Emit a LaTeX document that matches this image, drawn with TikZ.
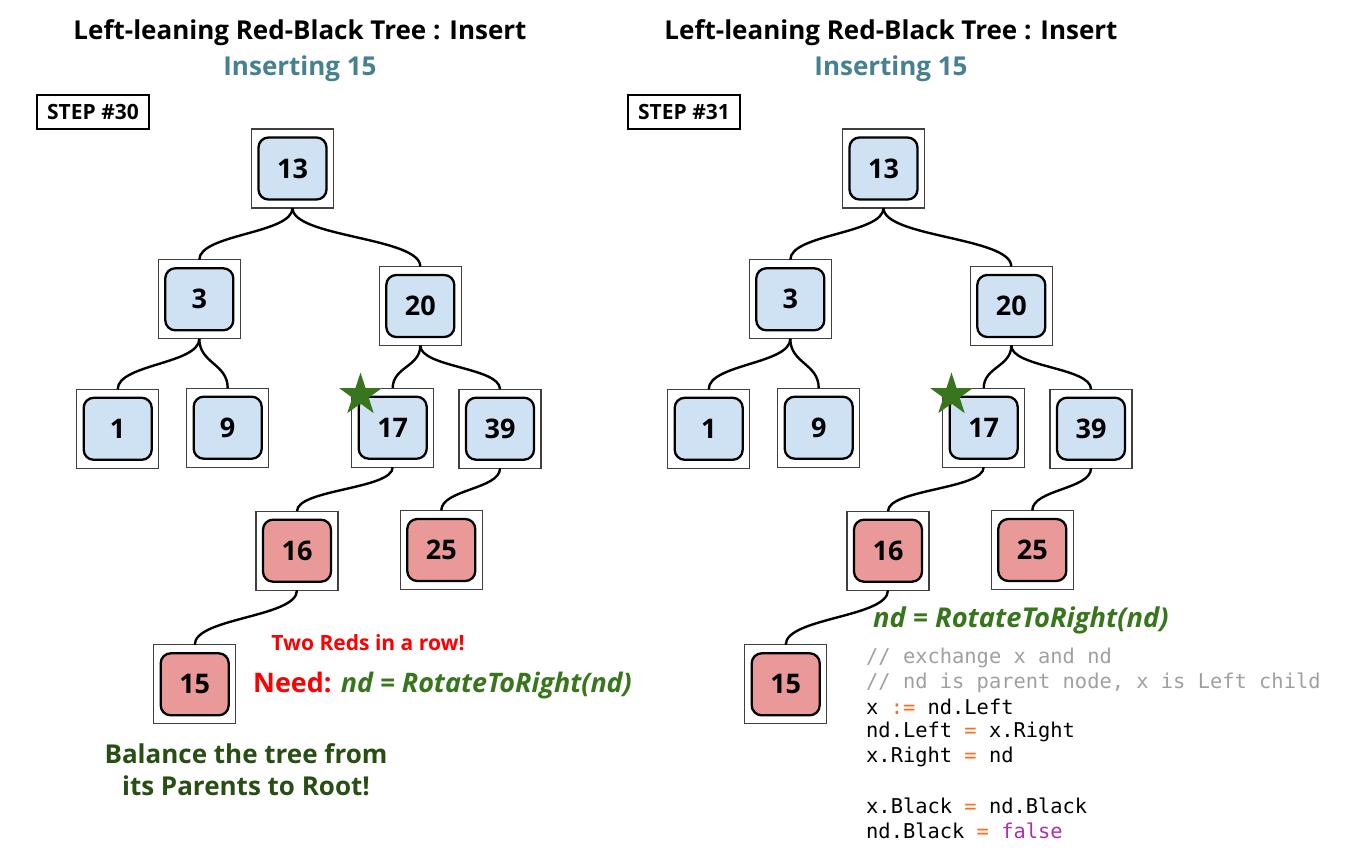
\documentclass[tikz,border=0pt]{standalone}
\usepackage{fontspec}
\setmainfont{Open Sans}
\newfontfamily\codefont{DejaVu Sans Mono}
\usetikzlibrary{shapes.geometric,calc}
\definecolor{nblue}{HTML}{CFE2F3}
\definecolor{nred}{HTML}{EA9999}
\definecolor{tealc}{HTML}{45818E}
\definecolor{tgreen}{HTML}{38761D}
\definecolor{dgreen}{HTML}{274E13}
\definecolor{cmt}{HTML}{A0A0A0}
\definecolor{opc}{HTML}{FF6A1F}
\definecolor{kwc}{HTML}{A932B0}
\tikzset{
  outerbox/.style={draw=black!75, line width=1.3pt, fill=white, minimum width=82pt, minimum height=79pt, inner sep=0pt, outer sep=0pt},
  innerbox/.style={draw=black, line width=2.3pt, rounded corners=10pt, minimum width=68pt, minimum height=62pt, inner sep=0pt, font=\fontsize{27}{27}\selectfont\bfseries},
  edge/.style={line width=2.4pt, black},
  stepbox/.style={draw=black, line width=2pt, minimum width=112pt, minimum height=34pt, inner sep=0pt, font=\fontsize{21}{21}\selectfont\bfseries},
  titletext/.style={font=\fontsize{26}{26}\selectfont\bfseries},
  subtitle/.style={font=\fontsize{26}{26}\selectfont\bfseries, text=tealc},
  starmark/.style={star, star points=5, star point ratio=2.618, fill=tgreen, draw=none, minimum size=45pt, inner sep=0pt},
  codeline/.style={anchor=west, inner sep=0pt, font=\fontsize{20.4}{20.4}\selectfont\codefont},
  rot/.style={font=\fontsize{27.3}{27.3}\selectfont\bfseries\itshape, text=tgreen}
}
\newcommand\tnode[5]{% name, x, y, label, fill
  \node[outerbox] (#1) at (#2,#3) {};
  \node[innerbox, fill=#5] (#1i) at (#2,#3) {\raisebox{-1.5pt}{#4}};
}
\newcommand\tedge[2]{%
  \draw[edge] let \p1=(#1.south), \p2=(#2.north) in
    (\p1) .. controls (\x1,{0.5*\y1+0.5*\y2}) and (\x2,{0.5*\y1+0.5*\y2}) .. (\p2);
}
\newcommand\drawtree[2]{% prefix, x offset
  \tnode{#1a}{292.5+#2}{168.5}{13}{nblue}
  \tnode{#1b}{199.3+#2}{299.3}{3}{nblue}
  \tnode{#1c}{420.3+#2}{306}{20}{nblue}
  \tnode{#1d}{117.7+#2}{428.8}{1}{nblue}
  \tnode{#1e}{227.7+#2}{427.7}{9}{nblue}
  \tnode{#1f}{392.7+#2}{427.7}{17}{nblue}
  \tnode{#1g}{500+#2}{428.7}{39}{nblue}
  \tnode{#1h}{297+#2}{550.7}{16}{nred}
  \tnode{#1k}{441.3+#2}{550}{25}{nred}
  \tnode{#1m}{194.7+#2}{684.3}{15}{nred}
  \tedge{#1a}{#1b}
  \tedge{#1a}{#1c}
  \tedge{#1b}{#1d}
  \tedge{#1b}{#1e}
  \tedge{#1c}{#1f}
  \tedge{#1c}{#1g}
  \tedge{#1f}{#1h}
  \tedge{#1g}{#1k}
  \tedge{#1h}{#1m}
  \node[starmark] (#1star) at (360.5+#2,395) {};
}
\begin{document}
\begin{tikzpicture}[x=1pt,y=-1pt]
\useasboundingbox (0,0) rectangle (1349,862);
\fill[white] (0,0) rectangle (1349,862);
% left panel
\node[titletext] (ltitle) at (300,33) {Left-leaning Red-Black Tree : Insert};
\node[subtitle] (lsub) at (300,69) {Inserting 15};
\node[stepbox] (lstep) at (93,112) {STEP \#30};
\drawtree{L}{0}
\node[font=\fontsize{21}{21}\selectfont\bfseries, text=red] (tworeds) at (368,643) {Two Reds in a row!};
\node[anchor=west, inner sep=0pt, font=\fontsize{26.9}{26.9}\selectfont\bfseries] (need) at (253,686) {\textcolor{red}{Need:} \textcolor{tgreen}{\itshape nd = RotateToRight(nd)}};
\node[align=center, font=\fontsize{26}{32}\selectfont\bfseries, text=dgreen] (balance) at (246,770) {Balance the tree from\\its Parents to Root!};
% right panel
\node[titletext] (rtitle) at (891,33) {Left-leaning Red-Black Tree : Insert};
\node[subtitle] (rsub) at (891,69) {Inserting 15};
\node[stepbox] (rstep) at (684,112) {STEP \#31};
\drawtree{R}{591}
\node[rot, anchor=west, inner sep=0pt] (rrot) at (873,620) {nd = RotateToRight(nd)};
\node[codeline, text=cmt] (c1) at (866,658) {// exchange x and nd};
\node[codeline, text=cmt] (c2) at (866,683) {// nd is parent node, x is Left child};
\node[codeline] (c3) at (866,707) {x \textcolor{opc}{:=} nd.Left};
\node[codeline] (c4) at (866,732) {nd.Left \textcolor{opc}{=} x.Right};
\node[codeline] (c5) at (866,756.5) {x.Right \textcolor{opc}{=} nd};
\node[codeline] (c7) at (866,806) {x.Black \textcolor{opc}{=} nd.Black};
\node[codeline] (c8) at (866,830.5) {nd.Black \textcolor{opc}{=} \textcolor{kwc}{false}};
\end{tikzpicture}
\end{document}
